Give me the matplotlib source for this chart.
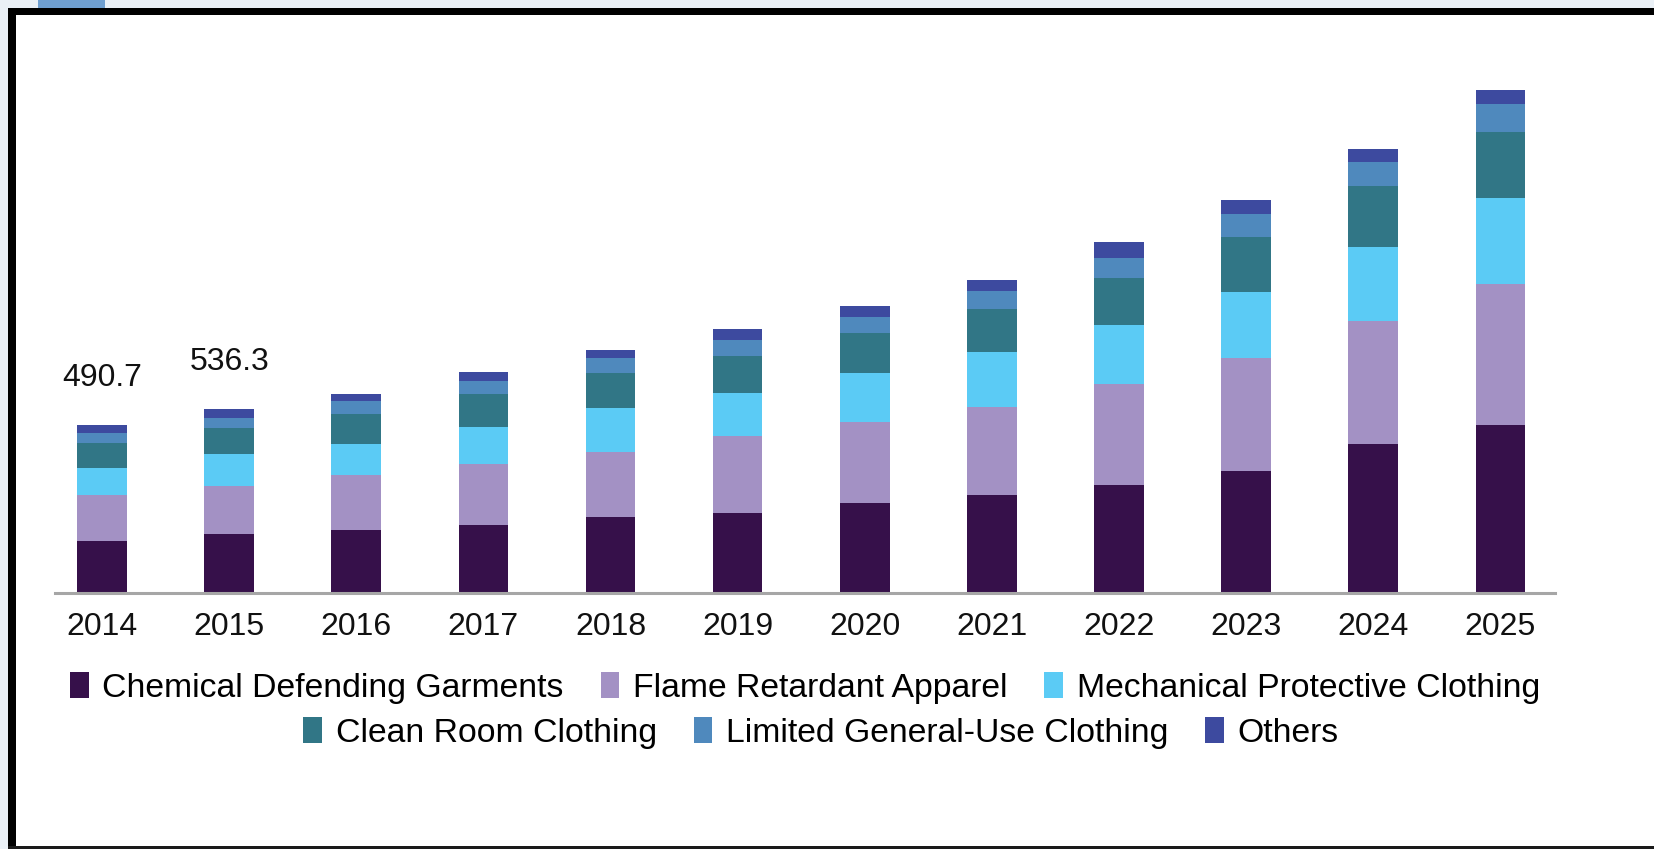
import numpy as np
import matplotlib
matplotlib.use("Agg")
import matplotlib.pyplot as plt
from matplotlib.patches import Rectangle, Patch

plt.rcParams['font.family'] = ['Liberation Sans', 'DejaVu Sans']

# values (USD million)
years = ['2014', '2015', '2016', '2017', '2018', '2019',
         '2020', '2021', '2022', '2023', '2024', '2025']
chemical = [152.5, 173.0, 184, 199, 222, 234, 263, 286, 316, 356, 434, 490]
flame = [134.3, 138.0, 161, 178, 190, 225, 237, 257, 295, 330, 360, 412]
mechanical = [79.0, 94.0, 90, 108, 128, 126, 143, 161, 172, 193, 216, 251]
clean_room = [73.0, 76.0, 88, 96, 102, 108, 117, 126, 137, 161, 177, 193]
limited = [29.0, 29.0, 38, 38, 44, 47, 47, 53, 58, 67, 72, 82]
others = [22.9, 26.3, 20, 26, 24, 31, 31, 31, 47, 41, 38, 41]
shown_totals = {0: '490.7', 1: '536.3'}

series = [
    ('Chemical Defending Garments', chemical, '#36104a'),
    ('Flame Retardant Apparel', flame, '#a391c4'),
    ('Mechanical Protective Clothing', mechanical, '#5bcbf5'),
    ('Clean Room Clothing', clean_room, '#317686'),
    ('Limited General-Use Clothing', limited, '#4f89bd'),
    ('Others', others, '#3d4a9f'),
]

W, H = 1654, 849
def fx(x):
    return x / W
def fy(y):
    return 1 - y / H

fig = plt.figure(figsize=(W / 100, H / 100), dpi=100)
fig.patch.set_facecolor('#eaf0f6')

# white card with black frame (screenshot look)
fig.add_artist(Rectangle((fx(8), fy(848)), 1, 840 / H, transform=fig.transFigure,
                         facecolor='white', edgecolor='none', zorder=-5))
fig.add_artist(Rectangle((fx(8), fy(15)), 1, 7 / H, transform=fig.transFigure,
                         facecolor='black', edgecolor='none', zorder=-4))
fig.add_artist(Rectangle((fx(8), fy(848)), 8 / W, 840 / H, transform=fig.transFigure,
                         facecolor='black', edgecolor='none', zorder=-4))
fig.add_artist(Rectangle((fx(8), fy(849)), 1, 3 / H, transform=fig.transFigure,
                         facecolor='#1a1a1a', edgecolor='none', zorder=-4))
fig.add_artist(Rectangle((fx(38), fy(8)), 67 / W, 8 / H, transform=fig.transFigure,
                         facecolor='#6f9fd0', edgecolor='none', zorder=-4))

ax = fig.add_axes([fx(55), fy(593), 1500 / W, (593 - 70) / H])
ax.set_facecolor('none')

x = np.arange(len(years))
bottom = np.zeros(len(years))
handles = []
for name, vals, col in series:
    vals = np.array(vals, dtype=float)
    ax.bar(x, vals, width=0.39, bottom=bottom, color=col, edgecolor='none')
    bottom += vals
    handles.append(Patch(facecolor=col, edgecolor='none', label=name))

for i, txt in shown_totals.items():
    ax.annotate(txt, (x[i], bottom[i]), xytext=(0, 34), textcoords='offset points',
                ha='center', va='center', fontsize=23, color='#111111')

ax.set_xlim(-0.37, 11.43)
ax.set_ylim(0, (593 - 70) * 2.92)
ax.set_xticks(x)
ax.set_xticklabels(years, fontsize=23, color='#111111')
ax.tick_params(axis='x', length=0, pad=14)
ax.set_yticks([])
for s in ['top', 'left', 'right']:
    ax.spines[s].set_visible(False)
ax.spines['bottom'].set_color('#a6a6a6')
ax.spines['bottom'].set_linewidth(2.2)

leg1 = ax.legend(handles=handles[:3], loc='center', ncol=3, frameon=False,
                 bbox_to_anchor=(fx(805), fy(688)), bbox_transform=fig.transFigure,
                 fontsize=24.3, handlelength=0.55, handleheight=0.8,
                 handletextpad=0.4, columnspacing=1.1)
ax.add_artist(leg1)
ax.legend(handles=handles[3:], loc='center', ncol=3, frameon=False,
          bbox_to_anchor=(fx(821), fy(733)), bbox_transform=fig.transFigure,
          fontsize=24.3, handlelength=0.55, handleheight=0.8,
          handletextpad=0.4, columnspacing=1.1)

fig.savefig('out.png', dpi=100, facecolor=fig.get_facecolor())
